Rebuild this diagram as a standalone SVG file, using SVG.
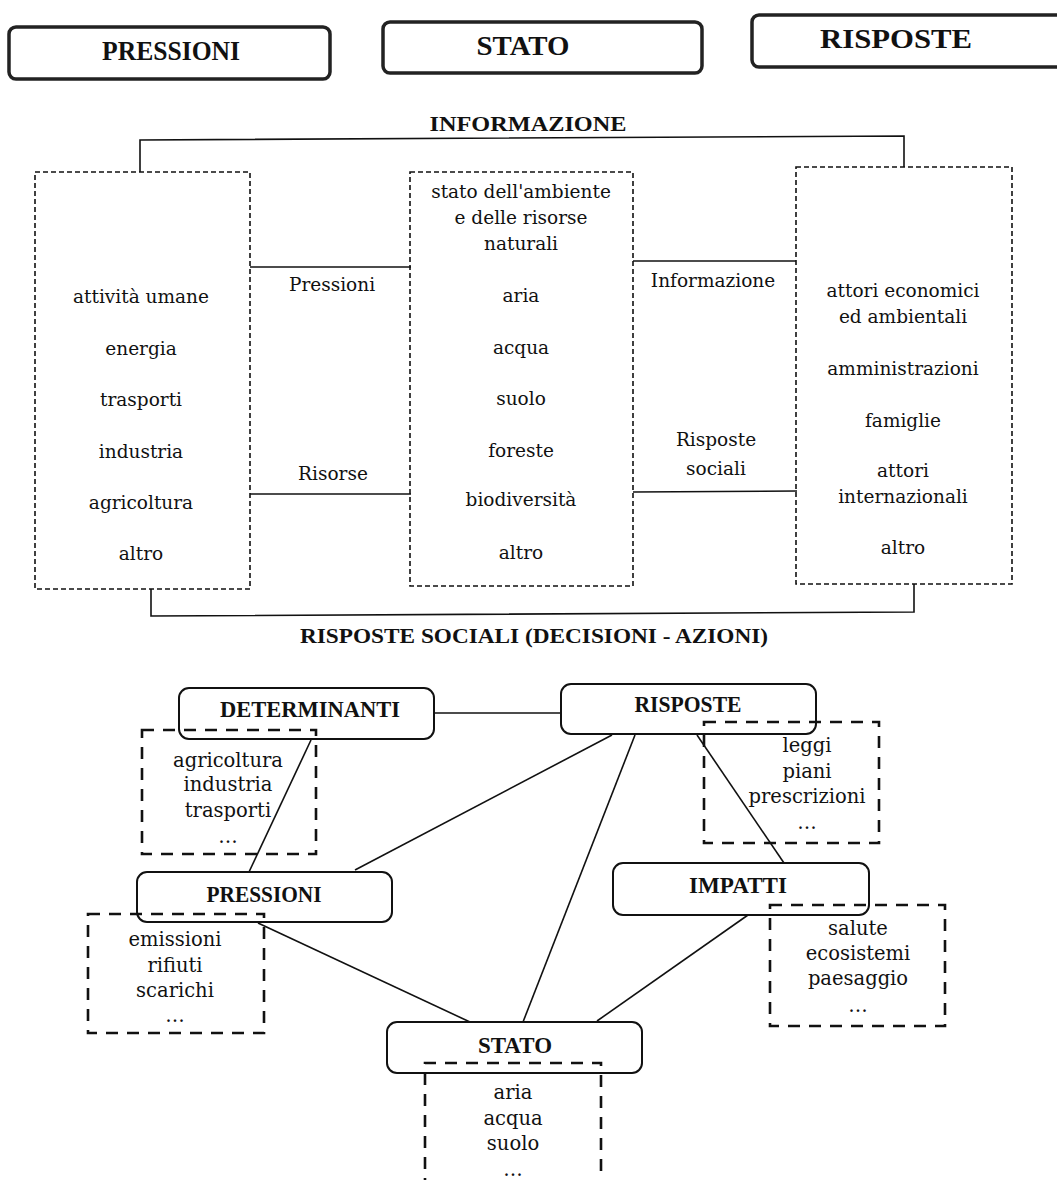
<svg xmlns="http://www.w3.org/2000/svg" width="1057" height="1180" viewBox="0 0 1057 1180">
<style>
.hdr{fill:#fff;stroke:#222;stroke-width:3.5}
.hdrt{font-family:"Liberation Serif",serif;font-weight:bold;font-size:28px;fill:#111;text-anchor:middle}
.dbox{fill:none;stroke:#111;stroke-width:1.6;stroke-dasharray:5 3}
.t{font-family:"DejaVu Serif",serif;font-size:18.5px;fill:#111;text-anchor:middle}
.b{font-family:"Liberation Serif",serif;font-weight:bold;font-size:22px;fill:#111;text-anchor:middle}
.ln{fill:none;stroke:#111;stroke-width:1.6}
.node{fill:#fff;stroke:#111;stroke-width:2}
.nt{font-family:"Liberation Serif",serif;font-weight:bold;font-size:24px;fill:#111;text-anchor:middle}
.ddb{fill:none;stroke:#111;stroke-width:2.6;stroke-dasharray:12 9}
.lt{font-family:"DejaVu Serif",serif;font-size:19.5px;fill:#111;text-anchor:middle}
</style>
<rect width="1057" height="1180" fill="#fff"/>

<!-- header boxes -->
<g id="hdr-pressioni"><rect class="hdr" x="9" y="27" width="321" height="52" rx="7"/><text class="hdrt" x="171" y="60" textLength="138" lengthAdjust="spacingAndGlyphs">PRESSIONI</text></g>
<g id="hdr-stato"><rect class="hdr" x="383" y="22" width="319" height="51" rx="7"/><text class="hdrt" x="523" y="55" textLength="93" lengthAdjust="spacingAndGlyphs">STATO</text></g>
<g id="hdr-risposte"><rect class="hdr" x="752" y="15" width="320" height="52" rx="7"/><text class="hdrt" x="896" y="48" textLength="152" lengthAdjust="spacingAndGlyphs">RISPOSTE</text></g>

<!-- middle section connectors -->
<g id="connectors-top">
<polyline class="ln" points="140,172 140,140 904,136 904,167"/>
<polyline class="ln" points="151,589 151,616 914,612 914,584"/>
<line class="ln" x1="250" y1="267" x2="411" y2="267"/>
<line class="ln" x1="250" y1="494" x2="411" y2="494"/>
<line class="ln" x1="633" y1="261" x2="796" y2="261"/>
<line class="ln" x1="633" y1="492" x2="797" y2="491"/>
<text class="b" x="528" y="131" textLength="197" lengthAdjust="spacingAndGlyphs">INFORMAZIONE</text>
<text class="b" x="534" y="643" textLength="468" lengthAdjust="spacingAndGlyphs">RISPOSTE SOCIALI  (DECISIONI  -  AZIONI)</text>
<text class="t" x="332" y="291">Pressioni</text>
<text class="t" x="333" y="480">Risorse</text>
<text class="t" x="713" y="287">Informazione</text>
<text class="t" x="716" y="446">Risposte</text>
<text class="t" x="716" y="475">sociali</text>
</g>

<g id="box-attivita">
<rect class="dbox" x="35" y="172" width="215" height="417"/>
<text class="t" x="141" y="303">attività umane</text>
<text class="t" x="141" y="355">energia</text>
<text class="t" x="141" y="406">trasporti</text>
<text class="t" x="141" y="458">industria</text>
<text class="t" x="141" y="509">agricoltura</text>
<text class="t" x="141" y="560">altro</text>
</g>

<g id="box-stato-ambiente">
<rect class="dbox" x="410" y="172" width="223" height="414"/>
<text class="t" x="521" y="198">stato dell'ambiente</text>
<text class="t" x="521" y="224">e delle risorse</text>
<text class="t" x="521" y="250">naturali</text>
<text class="t" x="521" y="302">aria</text>
<text class="t" x="521" y="354">acqua</text>
<text class="t" x="521" y="405">suolo</text>
<text class="t" x="521" y="457">foreste</text>
<text class="t" x="521" y="506">biodiversità</text>
<text class="t" x="521" y="559">altro</text>
</g>

<g id="box-attori">
<rect class="dbox" x="796" y="167" width="216" height="417"/>
<text class="t" x="903" y="297">attori economici</text>
<text class="t" x="903" y="323">ed ambientali</text>
<text class="t" x="903" y="375">amministrazioni</text>
<text class="t" x="903" y="427">famiglie</text>
<text class="t" x="903" y="477">attori</text>
<text class="t" x="903" y="503">internazionali</text>
<text class="t" x="903" y="554">altro</text>
</g>

<!-- bottom section connectors -->
<g id="connectors-bottom">
<line class="ln" x1="434" y1="713" x2="561" y2="713"/>
<line class="ln" x1="311" y1="740" x2="249" y2="872"/>
<line class="ln" x1="355" y1="870" x2="612" y2="735"/>
<line class="ln" x1="258" y1="923" x2="470" y2="1022"/>
<line class="ln" x1="635" y1="735" x2="523" y2="1022"/>
<line class="ln" x1="697" y1="735" x2="784" y2="863"/>
<line class="ln" x1="748" y1="915" x2="597" y2="1021"/>
</g>

<g id="node-determinanti">
<rect class="node" x="179" y="688" width="255" height="51" rx="10"/>
<text class="nt" x="310" y="717" textLength="180" lengthAdjust="spacingAndGlyphs">DETERMINANTI</text>
<rect class="ddb" x="142" y="730" width="174" height="124"/>
<text class="lt" x="228" y="767">agricoltura</text>
<text class="lt" x="228" y="791">industria</text>
<text class="lt" x="228" y="817">trasporti</text>
<text class="lt" x="228" y="843">…</text>
</g>

<g id="node-risposte">
<rect class="node" x="561" y="684" width="255" height="50" rx="10"/>
<text class="nt" x="688" y="712" textLength="107" lengthAdjust="spacingAndGlyphs">RISPOSTE</text>
<rect class="ddb" x="704" y="722" width="175" height="121"/>
<text class="lt" x="807" y="752">leggi</text>
<text class="lt" x="807" y="778">piani</text>
<text class="lt" x="807" y="803">prescrizioni</text>
<text class="lt" x="807" y="829">…</text>
</g>

<g id="node-pressioni">
<rect class="node" x="137" y="872" width="255" height="50" rx="10"/>
<text class="nt" x="264" y="902" textLength="115" lengthAdjust="spacingAndGlyphs">PRESSIONI</text>
<rect class="ddb" x="88" y="914" width="176" height="119"/>
<text class="lt" x="175" y="946">emissioni</text>
<text class="lt" x="175" y="972">rifiuti</text>
<text class="lt" x="175" y="997">scarichi</text>
<text class="lt" x="175" y="1022">…</text>
</g>

<g id="node-impatti">
<rect class="node" x="613" y="863" width="256" height="52" rx="10"/>
<text class="nt" x="738" y="893" textLength="98" lengthAdjust="spacingAndGlyphs">IMPATTI</text>
<rect class="ddb" x="770" y="905" width="175" height="121"/>
<text class="lt" x="858" y="935">salute</text>
<text class="lt" x="858" y="960">ecosistemi</text>
<text class="lt" x="858" y="985">paesaggio</text>
<text class="lt" x="858" y="1012">…</text>
</g>

<g id="node-stato">
<rect class="node" x="387" y="1022" width="255" height="51" rx="10"/>
<text class="nt" x="515" y="1053" textLength="74" lengthAdjust="spacingAndGlyphs">STATO</text>
<polyline class="ddb" points="425,1190 425,1063 601,1063 601,1190"/>
<text class="lt" x="513" y="1099">aria</text>
<text class="lt" x="513" y="1125">acqua</text>
<text class="lt" x="513" y="1150">suolo</text>
<text class="lt" x="513" y="1176">…</text>
</g>
</svg>
